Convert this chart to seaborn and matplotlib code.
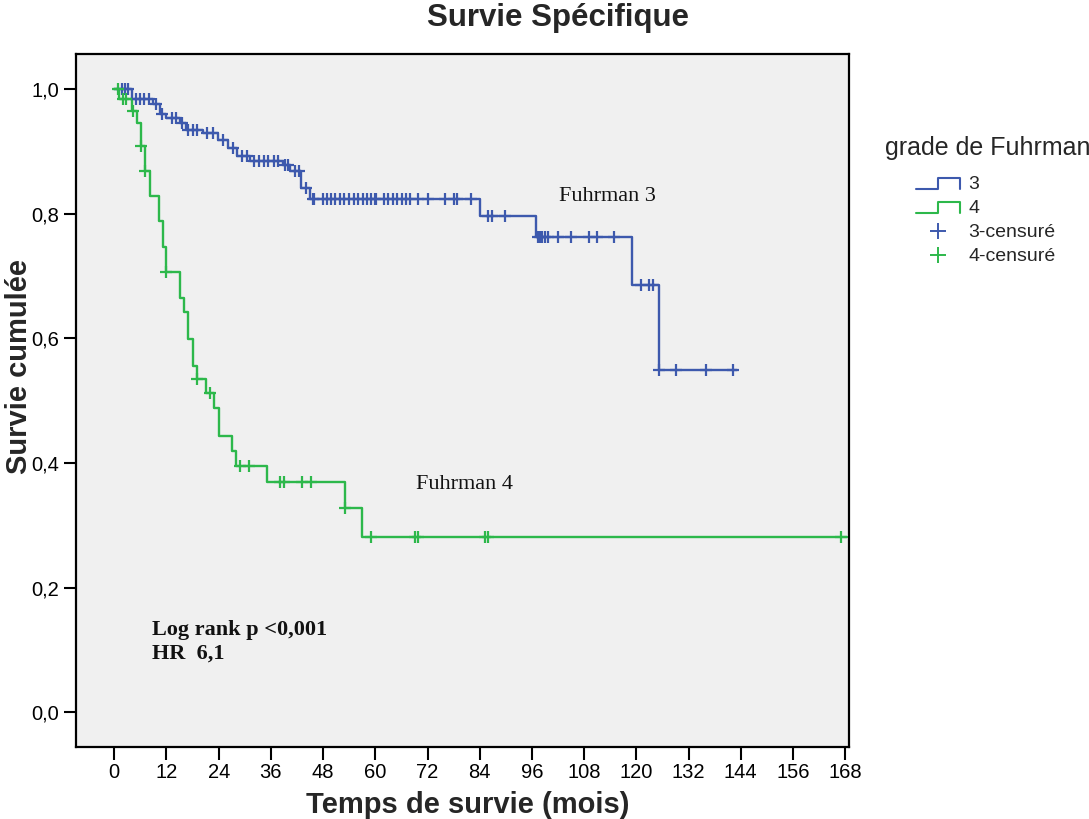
import numpy as np
import pandas as pd
import matplotlib
matplotlib.use("Agg")
import matplotlib.pyplot as plt
from matplotlib.lines import Line2D
from matplotlib.legend_handler import HandlerBase
import seaborn as sns

# ---------------- data ----------------
# Fuhrman grade 3: event (drop) times in months and survival level after each drop
g3_drop_times = [4.0, 9.0, 10.4, 12.0, 15.1, 16.5, 20.4, 23.9, 26.1, 28.1, 31.2, 38.8, 40.4,
                 43.0, 45.0, 84.1, 97.0, 119.1, 125.1]
g3_levels = [0.985, 0.976, 0.961, 0.953, 0.945, 0.934, 0.929, 0.918, 0.905, 0.893, 0.885,
             0.878, 0.868, 0.842, 0.824, 0.797, 0.763, 0.686, 0.549]
g3_end = 143.1
g3_censored = [1.8, 2.4, 3.2, 5.0, 5.9, 6.9, 8.0, 9.6, 11.0, 13.2, 14.2, 15.5, 17.0, 18.0, 18.9,
               21.3, 22.8, 25.1, 27.2, 29.3, 30.4, 32.1, 33.3, 34.4, 35.4, 36.6, 37.7, 39.3,
               40.0, 41.5, 42.5, 44.1, 45.6, 45.9, 48.0, 48.8, 49.7, 50.7, 51.9, 52.9, 54.0,
               55.0, 56.0, 57.1, 58.0, 59.0, 59.9, 60.1, 62.0, 62.8, 64.0, 64.9, 66.1, 67.1,
               68.0, 69.9, 72.0, 76.0, 78.1, 78.8, 82.0, 86.0, 86.8, 89.8, 97.3, 97.8, 98.4,
               98.9, 99.8, 101.9, 104.9, 109.0, 110.9, 114.9, 121.0, 123.0, 123.8, 125.3,
               129.2, 136.1, 142.1]

# Fuhrman grade 4
g4_drop_times = [1.1, 4.1, 5.2, 6.2, 7.1, 8.1, 10.2, 11.2, 12.0, 15.1, 16.1, 17.0, 18.0, 19.1,
                 21.1, 23.0, 24.1, 27.0, 27.9, 35.0, 53.1, 57.0]
g4_levels = [0.984, 0.965, 0.946, 0.909, 0.868, 0.828, 0.788, 0.747, 0.706, 0.665, 0.643,
             0.599, 0.556, 0.535, 0.513, 0.489, 0.443, 0.419, 0.395, 0.369, 0.328, 0.281]
g4_end = 168.4
g4_censored = [0.9, 1.9, 2.8, 4.2, 6.2, 7.1, 12.0, 19.1, 22.0, 28.9, 31.0, 38.1, 39.1, 43.1,
               45.1, 53.1, 58.9, 69.1, 69.9, 85.1, 85.8, 167.1]

x_ticks = list(range(0, 169, 12))
y_ticks = [0.0, 0.2, 0.4, 0.6, 0.8, 1.0]
y_tick_labels = ["0,0", "0,2", "0,4", "0,6", "0,8", "1,0"]
legend_labels = ["3", "4", "3-censuré", "4-censuré"]

BLUE = "#3d59ad"
GREEN = "#2db84b"


def km_frame(drops, levels, end):
    t = [0.0] + list(drops) + [end]
    s = [1.0] + list(levels) + [levels[-1]]
    return pd.DataFrame({"t": t, "s": s})


def censor_frame(drops, levels, cens):
    full = np.array([1.0] + list(levels))
    idx = np.searchsorted(np.array(drops), np.array(cens), side="right")
    return pd.DataFrame({"t": cens, "s": full[idx]})


# ---------------- style ----------------
sns.set_theme(style="ticks")
plt.rcParams["font.family"] = ["Liberation Sans", "DejaVu Sans"]

W, H = 1089, 819
fig = plt.figure(figsize=(W / 100, H / 100), dpi=100)
fig.patch.set_facecolor("white")
ax = fig.add_axes([76 / W, 1 - 746.7 / H, (848.7 - 76) / W, (746.7 - 54.3) / H])
ax.set_facecolor("#f0f0f0")

for drops, levels, end, cens, col in [
    (g3_drop_times, g3_levels, g3_end, g3_censored, BLUE),
    (g4_drop_times, g4_levels, g4_end, g4_censored, GREEN),
]:
    df = km_frame(drops, levels, end)
    sns.lineplot(data=df, x="t", y="s", drawstyle="steps-post", estimator=None,
                 sort=False, color=col, linewidth=1.7, ax=ax, legend=False)
    cf = censor_frame(drops, levels, cens)
    sns.scatterplot(data=cf, x="t", y="s", marker="+", s=70, color=col,
                    linewidth=1.6, ax=ax, legend=False, zorder=3)

ax.set_xlim(-8.8, 168.8)
ax.set_ylim(-0.055, 1.056)
ax.set_xticks(x_ticks)
ax.set_xticklabels([str(v) for v in x_ticks])
ax.set_yticks(y_ticks)
ax.set_yticklabels(y_tick_labels)
ax.tick_params(axis="both", direction="out", length=9, width=1.5, labelsize=14.5,
               color="black", labelcolor="black", pad=3)
for sp in ax.spines.values():
    sp.set_visible(True)
    sp.set_linewidth(1.6)
    sp.set_color("black")
ax.set_xlabel("")
ax.set_ylabel("")

# annotations
ax.text(102.3, 0.828, "Fuhrman 3", family="Liberation Serif", fontsize=16,
        va="center", ha="left", color="#111111")
ax.text(69.3, 0.365, "Fuhrman 4", family="Liberation Serif", fontsize=16,
        va="center", ha="left", color="#111111")
ax.text(8.6, 0.133, "Log rank p <0,001", family="Liberation Serif", fontsize=16,
        fontweight="bold", va="center", ha="left", color="#111111")
ax.text(8.6, 0.095, "HR  6,1", family="Liberation Serif", fontsize=16,
        fontweight="bold", va="center", ha="left", color="#111111")

# titles
fig.text(558 / W, 1 - 18 / H, "Survie Spécifique", ha="center", va="center",
         fontsize=22.5, fontweight="bold")
fig.text(468 / W, 1 - 805 / H, "Temps de survie (mois)", ha="center", va="center",
         fontsize=21, fontweight="bold")
fig.text(19 / W, 1 - 366 / H, "Survie cumulée", ha="center", va="center",
         rotation=90, fontsize=21, fontweight="bold")


# legend with step icons
class HandlerStep(HandlerBase):
    def create_artists(self, legend, orig_handle, xdescent, ydescent, width, height,
                       fontsize, trans):
        lo = -ydescent + 0.05 * height
        hi = -ydescent + 0.85 * height
        x0 = -xdescent
        xs = [x0, x0 + 0.5 * width, x0 + 0.5 * width, x0 + width, x0 + width]
        ys = [lo, lo, hi, hi, lo]
        ln = Line2D(xs, ys, color=orig_handle.get_color(), linewidth=1.5, transform=trans)
        return [ln]


class StepProxy:
    def __init__(self, color):
        self._c = color

    def get_color(self):
        return self._c


handles = [
    StepProxy(BLUE),
    StepProxy(GREEN),
    Line2D([], [], color=BLUE, marker="+", linestyle="none", markersize=12, mew=1.4),
    Line2D([], [], color=GREEN, marker="+", linestyle="none", markersize=12, mew=1.4),
]
fig.text(885 / W, 1 - 148 / H, "grade de Fuhrman", ha="left", va="center", fontsize=18)
fig.legend(handles, legend_labels, loc="upper left",
           bbox_to_anchor=(906 / W, 1 - 166 / H), frameon=False, fontsize=14,
           handlelength=2.3, handletextpad=0.4, labelspacing=0.33, borderpad=0.0,
           handler_map={StepProxy: HandlerStep()})

fig.savefig("out.png", dpi=100, facecolor="white")
